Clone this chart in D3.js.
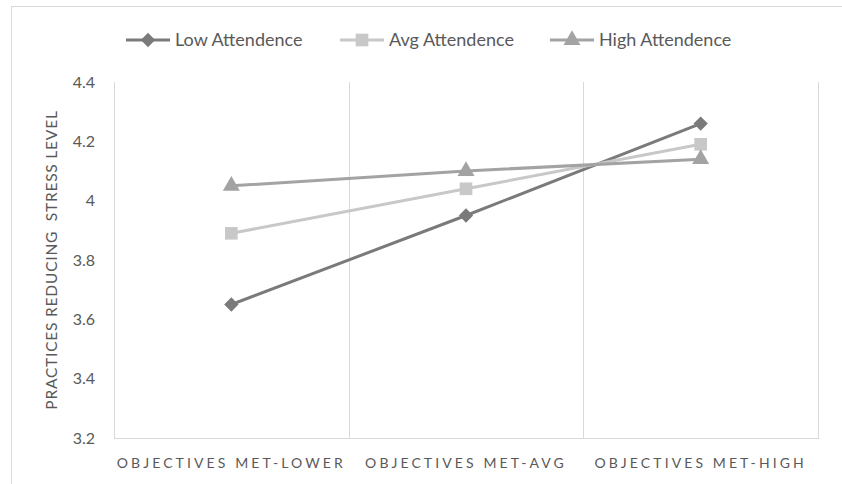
<!DOCTYPE html>
<html>
<head>
<meta charset="utf-8">
<script src="https://cdn.jsdelivr.net/npm/d3@7"></script>
<style>
  html, body { margin: 0; padding: 0; background: #fff; }
  svg { display: block; font-family: Lato, "Open Sans", sans-serif; }
</style>
</head>
<body>
<svg id="chart" width="842" height="484"></svg>
<script>
// Categories along the x axis
const categories = ["OBJECTIVES MET-LOWER", "OBJECTIVES MET-AVG", "OBJECTIVES MET-HIGH"];

// Series values
const lowAttendence  = [3.65, 3.95, 4.26];
const avgAttendence  = [3.89, 4.04, 4.19];
const highAttendence = [4.05, 4.10, 4.14];

const seriesNames = ["Low Attendence", "Avg Attendence", "High Attendence"];

// Y axis ticks
const yTicks = [3.2, 3.4, 3.6, 3.8, 4.0, 4.2, 4.4];
const yTickLabels = ["3.2", "3.4", "3.6", "3.8", "4", "4.2", "4.4"];

const yTitle = "PRACTICES REDUCING  STRESS LEVEL";

const series = [
  { name: seriesNames[0], values: lowAttendence,  color: "#7a7a7a", symbol: d3.symbolDiamond2, size: 130 },
  { name: seriesNames[1], values: avgAttendence,  color: "#c8c8c8", symbol: d3.symbolSquare,   size: 160 },
  { name: seriesNames[2], values: highAttendence, color: "#a3a3a3", symbol: d3.symbolTriangle, size: 125 }
];

const svg = d3.select("#chart");
const plot = { left: 114, right: 818, top: 82, bottom: 438 };

// Outer chart frame
svg.append("rect")
  .attr("x", 11.5).attr("y", 6.5)
  .attr("width", 900).attr("height", 600)
  .attr("fill", "none").attr("stroke", "#d9d9d9").attr("stroke-width", 1);

const x = d3.scaleBand().domain(categories).range([plot.left, plot.right]).padding(0);
const y = d3.scaleLinear().domain([3.2, 4.4]).range([plot.bottom, plot.top]);
const cx = c => x(c) + x.bandwidth() / 2;

// Vertical gridlines at category boundaries, plus the plot box sides and bottom
const boundaries = categories.map(c => x(c)).concat([plot.right]);
svg.append("g").selectAll("line").data(boundaries).join("line")
  .attr("x1", d => Math.round(d) + 0.5).attr("x2", d => Math.round(d) + 0.5)
  .attr("y1", plot.top).attr("y2", plot.bottom)
  .attr("stroke", "#d9d9d9").attr("stroke-width", 1);
svg.append("line")
  .attr("x1", plot.left).attr("x2", plot.right + 1)
  .attr("y1", plot.bottom + 0.5).attr("y2", plot.bottom + 0.5)
  .attr("stroke", "#d9d9d9").attr("stroke-width", 1);

// Y axis labels
const yAxis = d3.axisLeft(y).tickValues(yTicks)
  .tickFormat((d, i) => yTickLabels[i]).tickSize(0).tickPadding(19);
const yg = svg.append("g").attr("transform", `translate(${plot.left},0)`).call(yAxis);
yg.select(".domain").remove();
yg.selectAll("text").attr("fill", "#595959").style("font-size", "16px")
  .style("font-family", "Lato, 'Open Sans', sans-serif");

// X axis labels
const xAxis = d3.axisBottom(x).tickSize(0).tickPadding(20);
const xg = svg.append("g").attr("transform", `translate(0,${plot.bottom})`).call(xAxis);
xg.select(".domain").remove();
xg.selectAll("text").attr("fill", "#595959").style("font-size", "14px")
  .style("letter-spacing", "3.1px")
  .style("font-family", "Lato, 'Open Sans', sans-serif");

// Y axis title
svg.append("text")
  .attr("transform", `translate(57,${(plot.top + plot.bottom) / 2}) rotate(-90)`)
  .attr("text-anchor", "middle")
  .attr("fill", "#595959").style("font-size", "15.5px")
  .style("letter-spacing", "0.8px")
  .style("white-space", "pre")
  .text(yTitle);

// Lines and markers
const line = d3.line().x((d, i) => cx(categories[i])).y(d => y(d));
series.forEach(s => {
  svg.append("path").datum(s.values)
    .attr("d", line).attr("fill", "none")
    .attr("stroke", s.color).attr("stroke-width", 3).attr("stroke-linejoin", "round");
});
series.forEach(s => {
  svg.append("g").selectAll("path").data(s.values).join("path")
    .attr("transform", (d, i) => `translate(${cx(categories[i])},${y(d)})`)
    .attr("d", d3.symbol().type(s.symbol).size(s.size))
    .attr("fill", s.color);
});

// Legend
const legendX = [126, 340, 550];
const legendY = 40;
const legend = svg.append("g");
series.forEach((s, i) => {
  const g = legend.append("g").attr("transform", `translate(${legendX[i]},${legendY})`);
  g.append("line").attr("x1", 0).attr("x2", 44).attr("y1", 0).attr("y2", 0)
    .attr("stroke", s.color).attr("stroke-width", 3);
  g.append("path").attr("transform", "translate(22,0)")
    .attr("d", d3.symbol().type(s.symbol).size(s.size)).attr("fill", s.color);
  g.append("text").attr("x", 49).attr("y", 0).attr("dy", "0.35em")
    .attr("fill", "#595959").style("font-size", "18px").text(s.name);
});
</script>
</body>
</html>
